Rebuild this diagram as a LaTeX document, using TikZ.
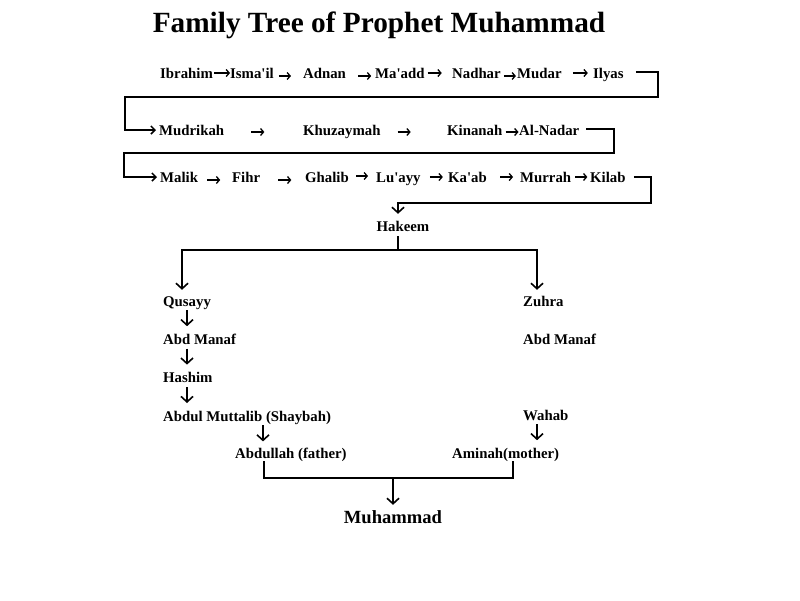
\documentclass[tikz,border=0pt]{standalone}
\usepackage{fontspec}
\setmainfont{Liberation Serif}
\usetikzlibrary{positioning,arrows.meta}

\tikzset{
  person/.style={anchor=base west, inner sep=0pt, font=\fontsize{14.8}{17}\selectfont\bfseries,
    text height=10pt, text depth=3pt},
  link/.style={line width=2pt},
  darr/.style={link, -{Straight Barb[length=5.5pt,width=12pt,line width=1.6pt]}},
  warr/.style={link, -{Straight Barb[length=4pt,width=8pt,line width=1.5pt]}},
  sarr/.style={line width=1.5pt, -{Straight Barb[length=3pt,width=7pt,line width=1.3pt]}},
}

\begin{document}
\begin{tikzpicture}[x=1pt, y=-1pt]
    \useasboundingbox (0,0) rectangle (800,600);
    \node[anchor=base, inner sep=0pt, font=\fontsize{29.3}{34}\selectfont\bfseries](title) at (379,32){Family Tree of Prophet Muhammad};
    % first row
    \node[person](Ibrahim) at (160,78){Ibrahim};
    \node[person](Ismail) at (230,78){Isma\textquotesingle il};
    \node[person](Adnan) at (303,78){Adnan};
    \node[person](Maadd) at (375,78){Ma\textquotesingle add};
    \node[person](Nadhar) at (452,78){Nadhar};
    \node[person](Mudar) at (517,78){Mudar};
    \node[person](Ilyas) at (593,78){Ilyas};
    % second row
    \node[person](Mudrikah) at (159,135){Mudrikah};
    \node[person](Khuzaymah) at (303,135){Khuzaymah};
    \node[person](Kinanah) at (447,135){Kinanah};
    \node[person](AlNadar) at (519,135){Al-Nadar};
    % third row
    \node[person](Malik) at (160,182){Malik};
    \node[person](Fihr) at (232,182){Fihr};
    \node[person](Ghalib) at (305,182){Ghalib};
    \node[person](Luayy) at (376,182){Lu\textquotesingle ayy};
    \node[person](Kaab) at (448,182){Ka\textquotesingle ab};
    \node[person](Murrah) at (520,182){Murrah};
    \node[person](Kilab) at (590,182){Kilab};
    \node[person, anchor=base](Hakeem) at (403,231){Hakeem};
    % two branches
    \node[person](Qusayy) at (163,306){Qusayy};
    \node[person, below=25pt of Qusayy.south west, anchor=north west](AbdManaf){Abd Manaf};
    \node[person, below=25pt of AbdManaf.south west, anchor=north west](Hashim){Hashim};
    \node[person, below=25pt of Hashim.south west, anchor=north west](Muttalib){Abdul Muttalib (Shaybah)};
    \node[person](Abdullah) at (235,458){Abdullah (father)};
    \node[person](Zuhra) at (523,306){Zuhra};
    \node[person, below=25pt of Zuhra.south west, anchor=north west](AbdManafZ){Abd Manaf};
    \node[person](Wahab) at (523,420){Wahab};
    \node[person](Aminah) at (452,458){Aminah(mother)};
    \node[person, anchor=base, text height=13pt, font=\fontsize{18.6}{22}\selectfont\bfseries](Muhammad) at (393,523){Muhammad};

    \coordinate (c1) at (658,97);
    \coordinate (c2) at (125,97);
    \coordinate (c3) at (614,153);
    \coordinate (c4) at (124,153);
    \coordinate (c5) at (651,203);
    \coordinate (split) at (398,250);
    \coordinate (merge) at (393,478);

    % arrows inside the rows
    \draw[sarr] ([xshift=1pt,yshift=5pt]Ibrahim.base east) -- ++(16,0);
    \draw[sarr] ([xshift=5pt,yshift=2pt]Ismail.base east) -- ++(12,0);
    \draw[sarr] ([xshift=12pt,yshift=2pt]Adnan.base east) -- ++(13,0);
    \draw[sarr] ([xshift=3pt,yshift=5pt]Maadd.base east) -- ++(14,0);
    \draw[sarr] ([xshift=3pt,yshift=2pt]Nadhar.base east) -- ++(12,0);
    \draw[sarr] ([xshift=11pt,yshift=5pt]Mudar.base east) -- ++(15,0);
    \draw[sarr] ([xshift=27pt,yshift=3pt]Mudrikah.base east) -- ++(13,0);
    \draw[sarr] ([xshift=17pt,yshift=3pt]Khuzaymah.base east) -- ++(13,0);
    \draw[sarr] ([xshift=3pt,yshift=3pt]Kinanah.base east) -- ++(13,0);
    \draw[sarr] ([xshift=9pt,yshift=2pt]Malik.base east) -- ++(13,0);
    \draw[sarr] ([xshift=18pt,yshift=2pt]Fihr.base east) -- ++(13,0);
    \draw[sarr] ([xshift=7pt,yshift=6pt]Ghalib.base east) -- ++(12,0);
    \draw[sarr] ([xshift=9pt,yshift=5pt]Luayy.base east) -- ++(13,0);
    \draw[sarr] ([xshift=13pt,yshift=5pt]Kaab.base east) -- ++(13,0);
    \draw[sarr] ([xshift=4pt,yshift=5pt]Murrah.base east) -- ++(12,0);

    % from one row to the next
    \draw[warr] ([xshift=12pt,yshift=6pt]Ilyas.base east) -| (c1) -- (c2) |- ([xshift=-3pt,yshift=5pt]Mudrikah.base west);
    \draw[warr] ([xshift=7pt,yshift=6pt]AlNadar.base east) -| (c3) -- (c4) |- ([xshift=-3pt,yshift=5pt]Malik.base west);
    \draw[darr] ([xshift=8pt,yshift=5pt]Kilab.base east) -| (c5) -| ([yshift=7pt]Hakeem.north -| split);

    % the two branches
    \draw[link] ([yshift=-2pt]Hakeem.south -| split) -- (split);
    \draw[darr] (split) -| ([xshift=19pt,yshift=6pt]Qusayy.north west);
    \draw[darr] (split) -| ([xshift=14pt,yshift=6pt]Zuhra.north west);
    \draw[darr] ([xshift=24pt,yshift=-1pt]Qusayy.south west) -- ++(0,16);
    \draw[darr] ([xshift=24pt,yshift=-1pt]AbdManaf.south west) -- ++(0,16);
    \draw[darr] ([xshift=24pt,yshift=-1pt]Hashim.south west) -- ++(0,16);
    \draw[darr] ([xshift=100pt,yshift=-1pt]Muttalib.south west) -- ++(0,16);
    \draw[darr] ([xshift=14pt,yshift=-1pt]Wahab.south west) -- ++(0,16);

    % the parents
    \draw[link] ([xshift=29pt]Abdullah.south west) |- (merge) -| ([xshift=61pt]Aminah.south west);
    \draw[darr] (merge) -- ([yshift=5pt]Muhammad.north -| merge);
\end{tikzpicture}
\end{document}
